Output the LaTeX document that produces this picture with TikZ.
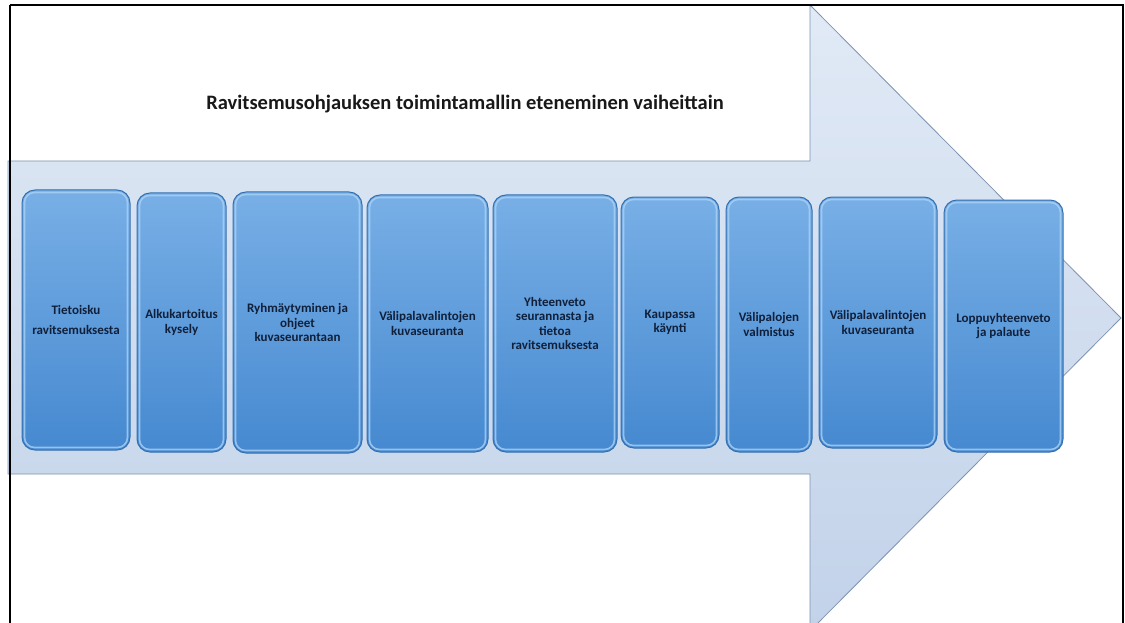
\documentclass[tikz,border=0pt]{standalone}
\usepackage{fontspec}
\setmainfont{Carlito}
\definecolor{arrowtop}{HTML}{E1EAF6}
\definecolor{arrowbot}{HTML}{C2D2E9}
\definecolor{arrowline}{HTML}{7F93B0}
\definecolor{boxtop}{HTML}{78AFE6}
\definecolor{boxbot}{HTML}{4689D0}
\definecolor{boxline}{HTML}{3570B0}
\definecolor{boxhl}{HTML}{A9D2F6}
\definecolor{boxtext}{HTML}{10203A}
\tikzset{
  stepbox/.style={draw=boxline, line width=1pt, rounded corners=13pt,
    top color=boxtop, bottom color=boxbot, align=center,
    text=boxtext, font=\fontsize{13}{14.5}\selectfont\bfseries, inner sep=2pt},
  innerhl/.style={draw=boxhl, line width=1.6pt, rounded corners=10pt, opacity=0.8},
  bigarrow/.style={draw=arrowline, line width=0.8pt, top color=arrowtop, bottom color=arrowbot},
  frame/.style={draw=black, line width=2pt},
  titletext/.style={font=\fontsize{20.5}{24}\selectfont\bfseries, text=black!90}
}
\begin{document}
\begin{tikzpicture}[x=1pt,y=-1pt]
\useasboundingbox (0,0) rectangle (1125,623);
\fill[white] (0,0) rectangle (1125,623);
\begin{scope}
\clip (0,0) rectangle (1125,623);
% big arrow
\path[bigarrow] (8,161) -- (810,161) -- (810,5) -- (1121,318) -- (810,631) -- (810,474) -- (8,474) -- cycle;
% frame
\draw[frame] (10,5) -- (1123,5) -- (1123,640);
\draw[frame] (10,5) -- (10,640);
\end{scope}
\node[titletext] (title) at (465,104) {Ravitsemusohjauksen toimintamallin eteneminen vaiheittain};
% steps
\node[stepbox, minimum width=108pt, minimum height=260pt] (b1) at (76,320) {Tietoisku\\[6pt]ravitsemuksesta};
\node[stepbox, minimum width=89pt, minimum height=259pt] (b2) at (181.5,322.5) {Alkukartoitus\\kysely};
\node[stepbox, minimum width=129pt, minimum height=261pt] (b3) at (297.5,322.5) {Ryhmäytyminen ja\\ohjeet\\kuvaseurantaan};
\node[stepbox, minimum width=121pt, minimum height=257pt] (b4) at (427.5,323.5) {Välipalavalintojen\\kuvaseuranta};
\node[stepbox, minimum width=124pt, minimum height=257pt] (b5) at (555,323.5) {Yhteenveto\\seurannasta ja\\tietoa\\ravitsemuksesta};
\node[stepbox, minimum width=98pt, minimum height=251pt] (b6) at (670,322.5) {Kaupassa\\käynti};
\node[stepbox, minimum width=86pt, minimum height=255pt] (b7) at (769,324.5) {Välipalojen\\valmistus};
\node[stepbox, minimum width=118pt, minimum height=251pt] (b8) at (878,322.5) {Välipalavalintojen\\kuvaseuranta};
\node[stepbox, minimum width=119pt, minimum height=252pt] (b9) at (1003.5,326) {Loppuyhteenveto\\ja palaute};
\foreach \n in {b1,b2,b3,b4,b5,b6,b7,b8,b9}{
  \draw[innerhl] ([xshift=3pt,yshift=-3pt]\n.north west) rectangle ([xshift=-3pt,yshift=3pt]\n.south east);
}
\end{tikzpicture}
\end{document}
